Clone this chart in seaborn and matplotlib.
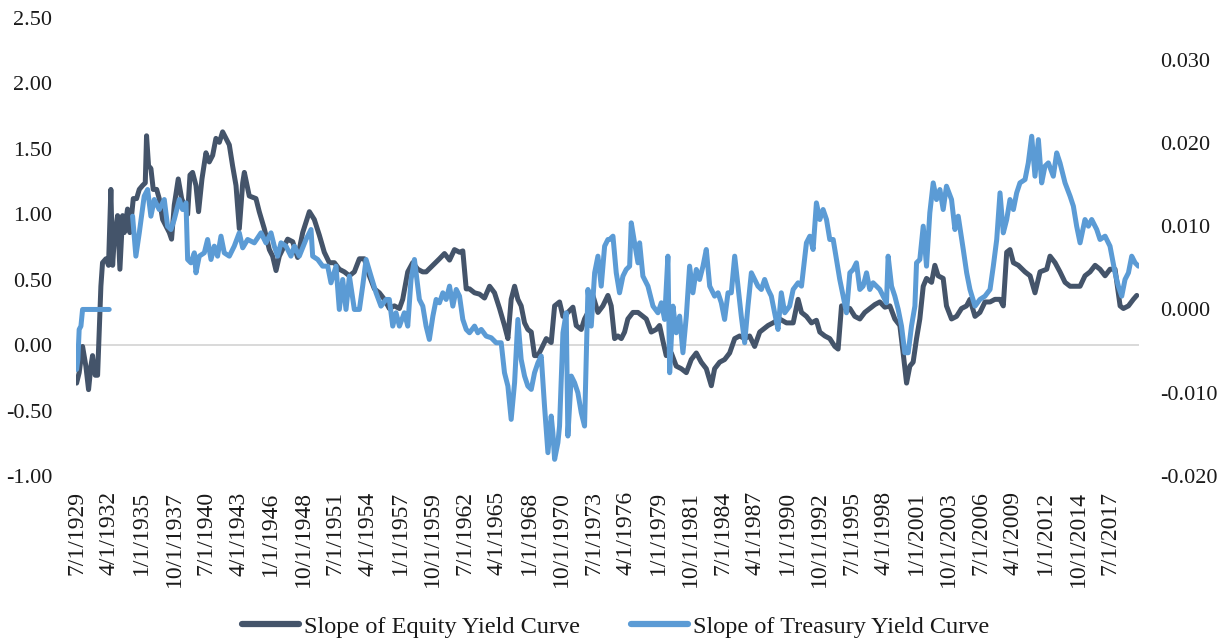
import matplotlib
matplotlib.use("Agg")
import matplotlib.pyplot as plt
from matplotlib.lines import Line2D
import numpy as np
import pandas as pd
import seaborn as sns

# Slope of equity yield curve (left axis)
EQ_YEAR = [
    1929.45, 1929.67, 1929.96, 1930.24, 1930.47, 1930.67, 1930.81, 1931.04, 1931.24, 1931.38,
    1931.52, 1931.66, 1931.95, 1932.17, 1932.37, 1932.52, 1932.66, 1932.94, 1933.14, 1933.37,
    1933.51, 1933.79, 1933.99, 1934.28, 1934.56, 1934.79, 1935.07, 1935.30, 1935.41, 1935.58,
    1935.78, 1935.98, 1936.27, 1936.49, 1936.78, 1937.06, 1937.35, 1937.54, 1937.77, 1938.11,
    1938.40, 1938.62, 1938.91, 1939.11, 1939.33, 1939.62, 1939.84, 1940.13, 1940.47, 1940.75,
    1941.04, 1941.32, 1941.61, 1941.89, 1942.17, 1942.46, 1942.74, 1943.03, 1943.31, 1943.60,
    1943.74, 1944.16, 1944.73, 1945.01, 1945.44, 1945.87, 1946.15, 1946.44, 1946.72, 1947.15,
    1947.43, 1947.86, 1948.28, 1948.71, 1949.28, 1949.70, 1950.13, 1950.55, 1950.98, 1951.41,
    1951.83, 1952.26, 1952.68, 1953.11, 1953.54, 1953.96, 1954.39, 1954.82, 1955.24, 1955.67,
    1956.09, 1956.52, 1956.95, 1957.23, 1957.66, 1958.08, 1958.51, 1958.93,
    1959.23, 1959.80, 1960.36, 1960.79, 1961.22, 1961.64, 1962.07, 1962.35, 1962.64, 1962.92,
    1963.35, 1963.77, 1964.20, 1964.63, 1965.05, 1965.48, 1965.90, 1966.19, 1966.47, 1966.76,
    1967.04, 1967.32, 1967.61, 1967.89, 1968.18, 1968.46, 1968.75, 1969.03, 1969.46, 1969.88,
    1970.17, 1970.59, 1970.88, 1971.30, 1971.73, 1972.01, 1972.44, 1972.72, 1973.01, 1973.43,
    1973.86, 1974.28, 1974.71,
    1974.99, 1975.28, 1975.56, 1975.85, 1976.13, 1976.41, 1976.84, 1977.27, 1977.69, 1977.98,
    1978.40, 1978.83, 1979.11, 1979.40, 1979.68, 1980.11, 1980.53, 1980.96, 1981.39, 1981.81,
    1982.24, 1982.66, 1983.09, 1983.52, 1983.80, 1984.23, 1984.65, 1985.08, 1985.51, 1985.93,
    1986.36, 1986.78, 1987.21, 1987.64, 1987.92, 1988.35, 1988.77, 1989.34,
    1989.92, 1990.49, 1990.91, 1991.20, 1991.62, 1992.05, 1992.47, 1992.76, 1993.19, 1993.61,
    1994.04, 1994.32, 1994.61, 1994.89, 1995.32, 1995.74, 1996.17, 1996.59, 1997.02, 1997.45,
    1997.87, 1998.30, 1998.73, 1999.15, 1999.58, 1999.86, 2000.15, 2000.43, 2000.71, 2001.00,
    2001.28, 2001.57, 2001.85, 2002.28, 2002.56, 2002.84, 2003.27, 2003.55, 2003.98, 2004.41,
    2004.83, 2005.26,
    2005.55, 2005.98, 2006.40, 2006.83, 2007.26, 2007.68, 2008.11, 2008.39, 2008.68, 2008.96,
    2009.25, 2009.67, 2010.24, 2010.67, 2011.09, 2011.52, 2012.09, 2012.37, 2012.80, 2013.22,
    2013.65, 2014.08, 2014.50, 2014.93, 2015.35, 2015.78, 2016.21, 2016.63, 2017.06, 2017.48,
    2017.91, 2018.34, 2018.62, 2019.05, 2019.47, 2019.76,
]
EQ_SLOPE = [
    -0.29, -0.21, -0.01, -0.16, -0.34, -0.16, -0.08, -0.23, -0.23, 0.10,
    0.45, 0.63, 0.66, 0.61, 1.19, 0.61, 0.81, 0.99, 0.58, 0.99,
    0.86, 1.04, 0.86, 1.12, 1.12, 1.19, 1.22, 1.24, 1.60, 1.37,
    1.35, 1.19, 1.19, 1.12, 0.96, 0.91, 0.86, 0.81, 1.07, 1.27,
    1.12, 1.07, 1.00, 1.30, 1.32, 1.22, 1.02, 1.27, 1.47, 1.40,
    1.45, 1.58, 1.55, 1.63, 1.58, 1.53, 1.37, 1.22, 0.89, 1.24,
    1.32, 1.14, 1.12, 1.02, 0.89, 0.73, 0.68, 0.57, 0.68, 0.76,
    0.81, 0.79, 0.67, 0.86, 1.02, 0.96, 0.84, 0.71, 0.63, 0.63,
    0.58, 0.56, 0.53, 0.56, 0.66, 0.66, 0.53, 0.43, 0.40, 0.35,
    0.28, 0.30, 0.28, 0.35, 0.56, 0.63, 0.58, 0.56,
    0.56, 0.61, 0.66, 0.70, 0.65, 0.73, 0.71, 0.72, 0.43, 0.43,
    0.40, 0.39, 0.36, 0.45, 0.40, 0.28, 0.15, 0.05, 0.35, 0.45,
    0.35, 0.30, 0.17, 0.12, 0.10, -0.08, -0.08, -0.03, 0.05, 0.02,
    0.30, 0.33, 0.22, 0.25, 0.29, 0.15, 0.12, 0.20, 0.25, 0.38,
    0.25, 0.30, 0.38,
    0.30, 0.05, 0.07, 0.05, 0.10, 0.20, 0.25, 0.25, 0.22, 0.20,
    0.10, 0.12, 0.15, 0.03, -0.08, -0.06, -0.16, -0.18, -0.21, -0.11,
    -0.06, -0.13, -0.18, -0.31, -0.18, -0.13, -0.11, -0.06, 0.05, 0.07,
    0.05, 0.07, -0.01, 0.10, 0.12, 0.15, 0.17, 0.20,
    0.17, 0.17, 0.35, 0.25, 0.22, 0.17, 0.19, 0.10, 0.07, 0.05,
    -0.01, -0.03, 0.30, 0.29, 0.28, 0.22, 0.20, 0.25, 0.28, 0.31,
    0.33, 0.29, 0.30, 0.20, 0.15, -0.06, -0.29, -0.16, -0.13, 0.05,
    0.20, 0.45, 0.51, 0.48, 0.61, 0.53, 0.51, 0.30, 0.20, 0.22,
    0.28, 0.30,
    0.35, 0.22, 0.25, 0.33, 0.33, 0.35, 0.35, 0.30, 0.71, 0.73,
    0.63, 0.61, 0.56, 0.53, 0.40, 0.56, 0.58, 0.68, 0.63, 0.56,
    0.48, 0.45, 0.45, 0.45, 0.53, 0.56, 0.61, 0.58, 0.53, 0.58,
    0.58, 0.30, 0.28, 0.30, 0.35, 0.38,
]

# Slope of treasury yield curve (right axis); NaN marks the gap in the series
TR_YEAR = [
    1929.45, 1929.56, 1929.67, 1929.82, 1929.96, 1932.23, 1933.00,
    1934.22, 1934.50, 1934.79, 1935.21, 1935.50, 1935.78, 1936.07, 1936.49, 1936.92, 1937.20,
    1937.49, 1937.77, 1938.20, 1938.48, 1938.77, 1938.91, 1939.19, 1939.48, 1939.62, 1939.90,
    1940.33, 1940.61, 1940.90, 1941.18, 1941.46, 1941.75, 1942.03, 1942.46, 1942.88, 1943.31,
    1943.60,
    1944.02, 1944.59, 1945.16, 1945.58, 1946.01, 1946.29, 1946.58, 1946.86, 1947.29, 1947.71,
    1948.00, 1948.42, 1948.99, 1949.42, 1949.56, 1949.99, 1950.41, 1950.84, 1951.12, 1951.55,
    1951.83, 1952.12, 1952.40, 1952.69, 1953.11, 1953.54, 1953.82, 1954.11, 1954.53, 1954.96,
    1955.38, 1955.81, 1956.09, 1956.38, 1956.66, 1956.95, 1957.37, 1957.66, 1957.94, 1958.23,
    1958.65, 1958.94, 1959.22, 1959.50,
    1959.80, 1960.08, 1960.36, 1960.65, 1960.93, 1961.22, 1961.50, 1961.79, 1962.07, 1962.35,
    1962.64, 1962.92, 1963.35, 1963.63, 1963.92, 1964.34, 1964.77, 1965.19, 1965.62, 1965.90,
    1966.19, 1966.47, 1966.76, 1967.04, 1967.32, 1967.61, 1967.89, 1968.18, 1968.46, 1968.75,
    1969.03, 1969.31, 1969.60, 1969.88, 1970.02, 1970.17, 1970.45, 1970.59, 1970.88, 1971.16,
    1971.30, 1971.59, 1971.87, 1972.15, 1972.44, 1972.72, 1973.01, 1973.29, 1973.58, 1973.86,
    1974.14, 1974.43, 1974.71,
    1974.85, 1975.14, 1975.42, 1975.70, 1975.99, 1976.27, 1976.56, 1976.70, 1976.98, 1977.27,
    1977.41, 1977.69, 1978.12, 1978.55, 1978.97, 1979.26, 1979.54, 1979.82, 1979.97, 1980.25,
    1980.53, 1980.82, 1981.10, 1981.39, 1981.67, 1981.95, 1982.24, 1982.52, 1982.81, 1983.09,
    1983.38, 1983.80, 1984.09, 1984.37, 1984.65, 1984.94, 1985.22, 1985.51, 1985.79, 1986.07,
    1986.36, 1986.64, 1986.93, 1987.21, 1987.49, 1987.78, 1988.06, 1988.35, 1988.63, 1988.91,
    1989.20, 1989.48, 1989.77, 1990.19,
    1990.49, 1990.91, 1991.20, 1991.62, 1991.91, 1992.19, 1992.47, 1992.76, 1993.04, 1993.33,
    1993.61, 1993.90, 1994.18, 1994.46, 1994.75, 1995.03, 1995.32, 1995.60, 1995.88, 1996.17,
    1996.45, 1996.74, 1997.02, 1997.30, 1997.59, 1997.87, 1998.16, 1998.44, 1998.58, 1998.87,
    1999.15, 1999.44, 1999.72, 2000.00, 2000.29, 2000.57, 2000.86, 2001.00, 2001.28, 2001.57,
    2001.85, 2002.13, 2002.42, 2002.70, 2002.99, 2003.27, 2003.55, 2003.98, 2004.27, 2004.55,
    2004.98, 2005.27, 2005.55, 2005.98, 2006.40, 2006.83, 2007.26, 2007.54, 2007.83, 2008.11,
    2008.39, 2008.68, 2008.96, 2009.25, 2009.53, 2009.81, 2010.24, 2010.52, 2010.81, 2011.09,
    2011.38, 2011.66, 2011.94, 2012.23, 2012.65, 2012.94, 2013.22, 2013.65, 2014.08, 2014.36,
    2014.64, 2014.93, 2015.35, 2015.64, 2015.92, 2016.35, 2016.63, 2017.06, 2017.48, 2017.91,
    2018.19, 2018.48, 2018.76, 2019.05, 2019.33, 2019.62, 2019.90,
]
TR_SLOPE = [
    -0.0072, -0.0060, -0.0024, -0.0020, 0.0000, 0.0000, np.nan,
    0.0112, 0.0064, 0.0092, 0.0136, 0.0144, 0.0112, 0.0132, 0.0120, 0.0132, 0.0100,
    0.0096, 0.0108, 0.0132, 0.0120, 0.0128, 0.0060, 0.0056, 0.0068, 0.0044, 0.0064,
    0.0068, 0.0084, 0.0060, 0.0076, 0.0064, 0.0088, 0.0068, 0.0064, 0.0076, 0.0092,
    0.0074,
    0.0084, 0.0080, 0.0092, 0.0080, 0.0092, 0.0076, 0.0064, 0.0080, 0.0076, 0.0064,
    0.0076, 0.0064, 0.0084, 0.0096, 0.0064, 0.0060, 0.0052, 0.0052, 0.0032, 0.0052,
    0.0000, 0.0036, 0.0000, 0.0040, 0.0000, 0.0000, 0.0028, 0.0060, 0.0040, 0.0020,
    0.0004, 0.0012, 0.0012, -0.0020, -0.0004, -0.0020, -0.0004, -0.0020, 0.0036, 0.0060,
    0.0012, 0.0004, -0.0020, -0.0036,
    -0.0008, 0.0012, 0.0008, 0.0020, 0.0012, 0.0028, 0.0004, 0.0024, 0.0016, -0.0012,
    -0.0024, -0.0028, -0.0020, -0.0028, -0.0024, -0.0032, -0.0034, -0.0040, -0.0040, -0.0076,
    -0.0092, -0.0132, -0.0088, -0.0012, -0.0060, -0.0080, -0.0092, -0.0096, -0.0076, -0.0064,
    -0.0056, -0.0116, -0.0172, -0.0128, -0.0148, -0.0180, -0.0160, -0.0140, -0.0028, -0.0004,
    -0.0152, -0.0080, -0.0088, -0.0100, -0.0124, -0.0140, 0.0024, -0.0020, 0.0044, 0.0064,
    0.0028, 0.0076, 0.0084,
    0.0084, 0.0088, 0.0044, 0.0020, 0.0040, 0.0048, 0.0052, 0.0104, 0.0080, 0.0056,
    0.0080, 0.0040, 0.0028, 0.0004, -0.0004, 0.0008, -0.0012, 0.0064, -0.0076, 0.0004,
    -0.0028, -0.0008, -0.0052, -0.0008, 0.0052, 0.0020, 0.0048, 0.0036, 0.0052, 0.0072,
    0.0028, 0.0016, 0.0020, 0.0008, -0.0012, 0.0020, 0.0020, 0.0064, 0.0028, -0.0008,
    -0.0040, 0.0004, 0.0044, 0.0036, 0.0028, 0.0024, 0.0036, 0.0024, 0.0016, -0.0004,
    -0.0024, 0.0020, -0.0004, 0.0004,
    0.0024, 0.0032, 0.0028, 0.0080, 0.0088, 0.0072, 0.0128, 0.0108, 0.0120, 0.0108,
    0.0084, 0.0084, 0.0060, 0.0036, 0.0016, -0.0004, 0.0044, 0.0048, 0.0056, 0.0024,
    0.0028, 0.0044, 0.0024, 0.0032, 0.0028, 0.0024, 0.0016, 0.0008, 0.0064, 0.0028,
    0.0016, 0.0000, -0.0020, -0.0052, -0.0052, -0.0020, 0.0004, 0.0056, 0.0060, 0.0100,
    0.0052, 0.0116, 0.0152, 0.0132, 0.0144, 0.0120, 0.0148, 0.0132, 0.0096, 0.0112,
    0.0072, 0.0044, 0.0024, 0.0004, 0.0012, 0.0016, 0.0024, 0.0052, 0.0084, 0.0140,
    0.0092, 0.0108, 0.0132, 0.0120, 0.0140, 0.0152, 0.0156, 0.0176, 0.0208, 0.0160,
    0.0204, 0.0152, 0.0172, 0.0176, 0.0160, 0.0188, 0.0176, 0.0152, 0.0136, 0.0124,
    0.0100, 0.0080, 0.0108, 0.0100, 0.0108, 0.0096, 0.0084, 0.0088, 0.0076, 0.0044,
    0.0028, 0.0016, 0.0036, 0.0044, 0.0064, 0.0056, 0.0052,
]

X_LABELS = [
    "7/1/1929", "4/1/1932", "1/1/1935", "10/1/1937", "7/1/1940", "4/1/1943",
    "1/1/1946", "10/1/1948", "7/1/1951", "4/1/1954", "1/1/1957", "10/1/1959",
    "7/1/1962", "4/1/1965", "1/1/1968", "10/1/1970", "7/1/1973", "4/1/1976",
    "1/1/1979", "10/1/1981", "7/1/1984", "4/1/1987", "1/1/1990", "10/1/1992",
    "7/1/1995", "4/1/1998", "1/1/2001", "10/1/2003", "7/1/2006", "4/1/2009",
    "1/1/2012", "10/1/2014", "7/1/2017",
]
LEFT_TICKS = [-1.0, -0.5, 0.0, 0.5, 1.0, 1.5, 2.0, 2.5]
RIGHT_TICKS = [-0.02, -0.01, 0.0, 0.01, 0.02, 0.03]
SERIES_NAMES = ["Slope of Equity Yield Curve", "Slope of Treasury Yield Curve"]

EQ_COLOR = "#44546A"
TR_COLOR = "#5B9BD5"
TEXT_COLOR = "#1a1a1a"


def label_to_year(s):
    m, d, y = (int(p) for p in s.split("/"))
    return y + (m - 1) / 12


assert len(EQ_YEAR) == len(EQ_SLOPE)
assert len(TR_YEAR) == len(TR_SLOPE)

sns.set_theme(style="white")
plt.rcParams["font.family"] = ["Liberation Serif", "DejaVu Serif"]
plt.rcParams["axes.unicode_minus"] = False

eq = pd.DataFrame({"year": EQ_YEAR, "slope": EQ_SLOPE})
tr = pd.DataFrame({"year": TR_YEAR, "slope": TR_SLOPE})
tr["seg"] = tr["slope"].isna().cumsum()
tr = tr.dropna()

fig, ax = plt.subplots(figsize=(12.31, 6.43), dpi=100)
fig.subplots_adjust(left=76 / 1231, right=1139 / 1231, top=1 - 18 / 643, bottom=1 - 476 / 643)
ax2 = ax.twinx()

ax.axhline(0, color="#D9D9D9", lw=1.4, zorder=0)
sns.lineplot(data=eq, x="year", y="slope", ax=ax, color=EQ_COLOR, lw=3.6,
             estimator=None, legend=False)
sns.lineplot(data=tr, x="year", y="slope", units="seg", ax=ax2, color=TR_COLOR,
             lw=3.6, estimator=None, legend=False)

ax.set_xlim(1929.4, 2019.95)
ax.set_ylim(-1.0, 2.5)
ax2.set_ylim(-0.02, 0.035)

ax.set_yticks(LEFT_TICKS)
ax.set_yticklabels([f"{v:.2f}" for v in LEFT_TICKS])
ax2.set_yticks(RIGHT_TICKS)
ax2.set_yticklabels([f"{v:.3f}" for v in RIGHT_TICKS])
ax.set_xticks([label_to_year(s) for s in X_LABELS])
ax.set_xticklabels(X_LABELS, rotation=90)

for a in (ax, ax2):
    for sp in a.spines.values():
        sp.set_visible(False)
    a.set_xlabel("")
    a.set_ylabel("")
    a.grid(False)

ax.tick_params(axis="y", length=0, pad=17, labelsize=16, labelcolor=TEXT_COLOR)
ax2.tick_params(axis="y", length=0, pad=15, labelsize=16, labelcolor=TEXT_COLOR)
ax.tick_params(axis="x", length=0, pad=11, labelsize=17, labelcolor=TEXT_COLOR)

handles = [Line2D([], [], color=EQ_COLOR, lw=4.5, solid_capstyle="round"),
           Line2D([], [], color=TR_COLOR, lw=4.5, solid_capstyle="round")]
leg = fig.legend(handles, SERIES_NAMES, loc="center", bbox_to_anchor=(0.5, 0.025),
                 ncol=2, frameon=False, fontsize=17.5, handlelength=2.35,
                 handletextpad=0.2, columnspacing=2.1)
for t in leg.get_texts():
    t.set_color(TEXT_COLOR)

fig.savefig("out.png", dpi=100)
